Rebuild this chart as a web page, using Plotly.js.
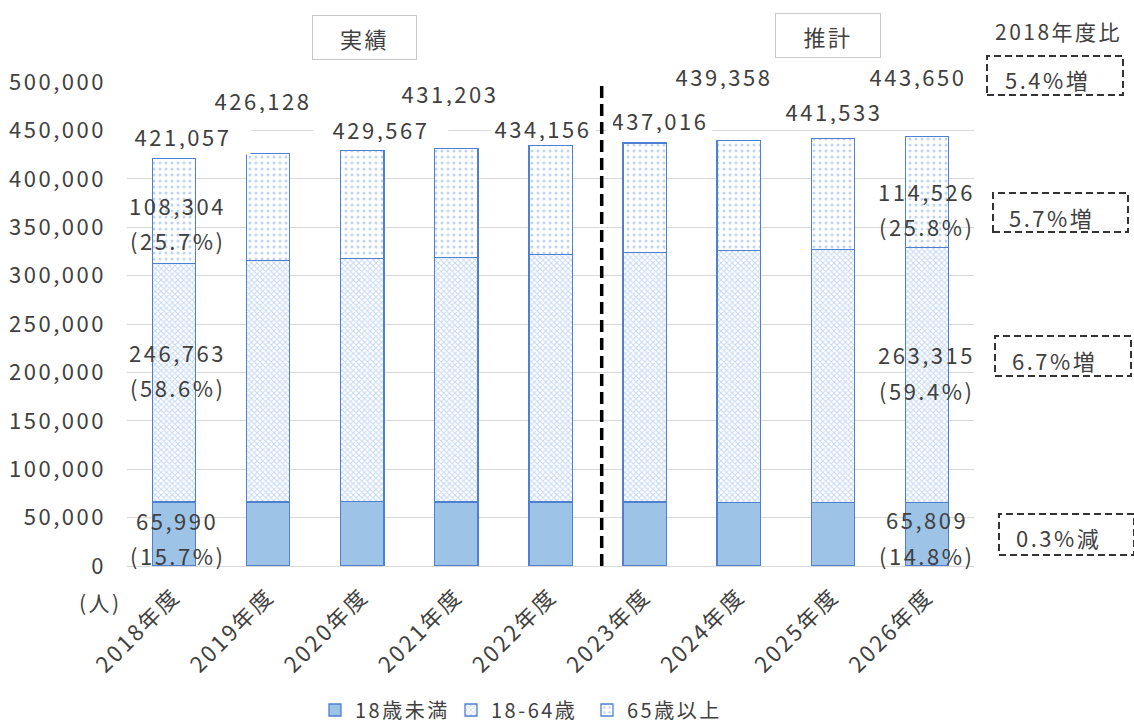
<!DOCTYPE html>
<html>
<head>
<meta charset="utf-8">
<script src="https://cdn.plot.ly/plotly-3.0.1.min.js"></script>
<style>
  html, body { margin: 0; padding: 0; background: #fff; }
  svg text { letter-spacing: 2.5px; }
</style>
</head>
<body>
<div id="chart" style="width:1134px;height:723px;"></div>
<script>
// ---- data ----
const years = ['2018年度','2019年度','2020年度','2021年度','2022年度','2023年度','2024年度','2025年度','2026年度'];
const under18 = [65990, 66200, 66300, 66200, 66100, 66000, 65900, 65900, 65809];
const age18to64 = [246763, 249700, 251680, 252500, 255700, 257550, 259700, 261300, 263315];
const over65 = [108304, 110228, 111587, 112503, 112356, 113466, 113758, 114333, 114526];
const totals = [421057, 426128, 429567, 431203, 434156, 437016, 439358, 441533, 443650];
const seriesNames = ['18歳未満', '18-64歳', '65歳以上'];
const yTicks = [0, 50000, 100000, 150000, 200000, 250000, 300000, 350000, 400000, 450000, 500000];

// ---- layout helpers (pixel -> paper) ----
const L = 127, R = 160, T = 82, B = 157, W = 1134, H = 723;
const PW = W - L - R, PH = H - T - B;
const px = p => (p - L) / PW;
const py = p => (H - B - p) / PH;

const FONT = '"Noto Sans CJK JP", "Noto Sans", sans-serif';
const TXT = '#404040';
const fmt = v => v.toLocaleString('en-US');
const pct = (v, t) => '(' + (v / t * 100).toFixed(1) + '%)';
const chg = (a, b) => {
  const r = (b / a - 1) * 100;
  return Math.abs(r).toFixed(1) + '%' + (r >= 0 ? '増' : '減');
};

const edge = '#4f7fd0';
const traces = [
  { type: 'bar', name: seriesNames[0], x: years, y: under18,
    marker: { color: '#9dc3e6', line: { color: edge, width: 1.3 } } },
  { type: 'bar', name: seriesNames[1], x: years, y: age18to64,
    marker: { color: '#ffffff', line: { color: edge, width: 1.3 },
      pattern: { shape: 'x', fgcolor: '#86afe3', bgcolor: '#ffffff', size: 4, solidity: 0.42, fillmode: 'overlay' } } },
  { type: 'bar', name: seriesNames[2], x: years, y: over65,
    marker: { color: '#ffffff', line: { color: edge, width: 1.3 },
      pattern: { shape: '.', fgcolor: '#7ea8e0', bgcolor: '#ffffff', size: 6, solidity: 0.2, fillmode: 'overlay' } } }
];

const annotations = [];
const tf = (s) => ({ family: FONT, size: s, color: TXT });

// totals labels (white label boxes)
const totXShift = [9, -5, 19, -6, -8, 15, -15, 1, -9];
const totYPix = [136, 100, 129, 93, 128, 120, 76, 111, 76];
const totBoxW = [124, 124, 124, 124, 100, 94, 124, 124, 124];
const totBoxPad = [5, 5, 5, 5, 2, 5, 5, 5, 5];
years.forEach((yr, i) => {
  annotations.push({
    xref: 'x', yref: 'paper', x: yr, y: py(totYPix[i]), xshift: totXShift[i],
    text: fmt(totals[i]), showarrow: false, font: tf(22),
    bgcolor: '#ffffff', width: totBoxW[i], height: 26, borderpad: totBoxPad[i],
    xanchor: 'center', yanchor: 'middle'
  });
});

// segment labels for first and last year
const segSpecs = [
  { i: 0, vals: [over65[0], age18to64[0], under18[0]], ys: [[205, 240], [352, 387], [520, 555]], xs: 3 },
  { i: 8, vals: [over65[8], age18to64[8], under18[8]], ys: [[191, 226], [354, 390], [519, 555]], xs: 0 }
];
segSpecs.forEach(s => {
  s.vals.forEach((v, k) => {
    annotations.push({ xref: 'x', yref: 'paper', x: years[s.i], y: py(s.ys[k][0]), xshift: s.xs,
      text: fmt(v), showarrow: false, font: tf(22), xanchor: 'center', yanchor: 'middle' });
    annotations.push({ xref: 'x', yref: 'paper', x: years[s.i], y: py(s.ys[k][1]), xshift: s.xs,
      text: pct(v, totals[s.i]), showarrow: false, font: tf(22), xanchor: 'center', yanchor: 'middle' });
  });
});

// section titles
annotations.push({ xref: 'paper', yref: 'paper', x: px(364), y: py(37.5), text: '実績',
  showarrow: false, font: tf(22), bordercolor: '#c8c8c8', borderwidth: 1, bgcolor: '#ffffff',
  width: 103, height: 43, borderpad: 0, xanchor: 'center', yanchor: 'middle' });
annotations.push({ xref: 'paper', yref: 'paper', x: px(828), y: py(35.5), text: '推計',
  showarrow: false, font: tf(22), bordercolor: '#c8c8c8', borderwidth: 1, bgcolor: '#ffffff',
  width: 104, height: 43, borderpad: 0, xanchor: 'center', yanchor: 'middle' });

// unit label
annotations.push({ xref: 'paper', yref: 'paper', x: px(100), y: py(602), text: '(人)',
  showarrow: false, font: tf(21), xanchor: 'center', yanchor: 'middle' });

// comparison column
annotations.push({ xref: 'paper', yref: 'paper', x: px(1058), y: py(31), text: '2018年度比',
  showarrow: false, font: tf(21), xanchor: 'center', yanchor: 'middle' });

const n = years.length - 1;
const cmpTexts = [
  chg(totals[0], totals[n]),
  chg(over65[0], over65[n]),
  chg(age18to64[0], age18to64[n]),
  chg(under18[0], under18[n])
];
const boxes = [
  { x0: 987, x1: 1123, y0: 56, y1: 95, tx: 1047, ty: 79 },
  { x0: 993, x1: 1128, y0: 193, y1: 232, tx: 1051, ty: 217 },
  { x0: 995, x1: 1131, y0: 336, y1: 376, tx: 1054, ty: 360 },
  { x0: 999, x1: 1134, y0: 514, y1: 555, tx: 1058, ty: 537 }
];
const shapes = [];
boxes.forEach((b, k) => {
  shapes.push({ type: 'rect', xref: 'paper', yref: 'paper',
    x0: px(b.x0), x1: px(b.x1), y0: py(b.y1), y1: py(b.y0),
    line: { color: '#333333', width: 2, dash: '7px,4px' }, fillcolor: 'rgba(0,0,0,0)' });
  annotations.push({ xref: 'paper', yref: 'paper', x: px(b.tx), y: py(b.ty), text: cmpTexts[k],
    showarrow: false, font: tf(22), xanchor: 'center', yanchor: 'middle' });
});

// divider between actual and estimate
shapes.push({ type: 'line', xref: 'paper', yref: 'y', x0: px(601.7), x1: px(601.7), y0: 0, y1: 500000,
  line: { color: '#000000', width: 3.5, dash: '12px,6px' }, layer: 'above' });

const layout = {
  width: W, height: H,
  margin: { l: L, r: R, t: T, b: B, pad: 0, autoexpand: false },
  paper_bgcolor: '#ffffff', plot_bgcolor: '#ffffff',
  barmode: 'stack', bargap: 0.54,
  font: { family: FONT, color: TXT, size: 21 },
  showlegend: true,
  legend: { orientation: 'h', x: px(315), xanchor: 'left', y: py(710), yanchor: 'middle',
    font: { family: FONT, size: 20, color: TXT }, traceorder: 'normal',
    entrywidth: 91, entrywidthmode: 'pixels', itemwidth: 30, bgcolor: 'rgba(0,0,0,0)' },
  xaxis: { type: 'category', range: [-0.5, years.length - 0.5], autorange: false,
    tickangle: -45, showgrid: false, showline: false, ticks: '',
    automargin: false,
    tickfont: { family: FONT, size: 22, color: TXT }, ticklabelstandoff: 12, fixedrange: true },
  yaxis: { range: [0, 500000], autorange: false, tickvals: yTicks, ticktext: yTicks.map(fmt),
    automargin: false,
    showgrid: true, gridcolor: '#d9d9d9', gridwidth: 1,
    zeroline: true, zerolinecolor: '#d9d9d9', zerolinewidth: 1,
    showline: false, ticks: '', ticklabelstandoff: 20,
    tickfont: { family: FONT, size: 22, color: TXT }, fixedrange: true },
  annotations: annotations,
  shapes: shapes,
  hovermode: false
};

Plotly.newPlot('chart', traces, layout, { displayModeBar: false, staticPlot: true });
</script>
</body>
</html>
